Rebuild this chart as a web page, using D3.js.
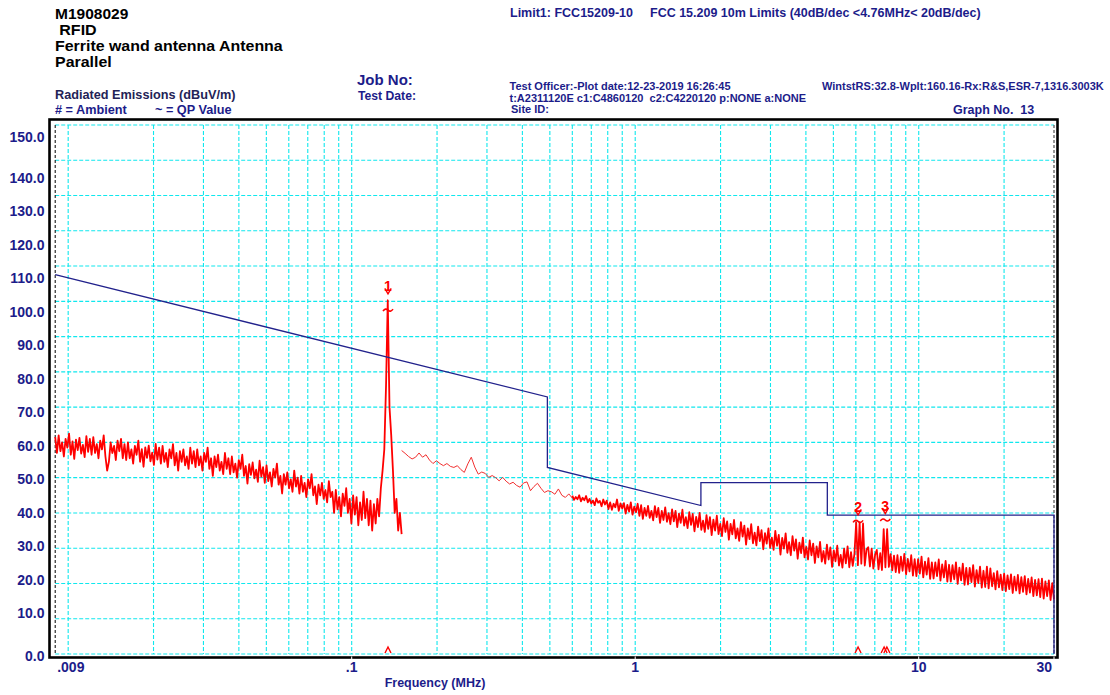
<!DOCTYPE html>
<html>
<head>
<meta charset="utf-8">
<script src="https://cdn.jsdelivr.net/npm/d3@7"></script>
<style>
  html, body { margin: 0; padding: 0; background: #fff; }
  svg { display: block; font-family: "Liberation Sans", Arial, sans-serif; }
  text { white-space: pre; }
</style>
</head>
<body>
<svg id="chart" width="1110" height="695"></svg>
<script>
// ---- axis ticks ----
const levelTicks = [0, 10, 20, 30, 40, 50, 60, 70, 80, 90, 100, 110, 120, 130, 140, 150];
const freqGrid = [0.01, 0.02, 0.03, 0.04, 0.05, 0.06, 0.07, 0.08, 0.09,
                  0.1, 0.2, 0.3, 0.4, 0.5, 0.6, 0.7, 0.8, 0.9,
                  1, 2, 3, 4, 5, 6, 7, 8, 9, 10, 20];
const freqLabelValues = [0.009, 0.1, 1, 10, 30];
const freqLabelTexts = [".009", ".1", "1", "10", "30"];

// ---- limit line: FCC 15.209 at 10 m ----
const limitFreq = [0.009, 0.49, 0.49, 1.705, 1.705, 4.76, 4.76, 30, 30];
const limitLevel = [107.6, 72.9, 52.9, 42.1, 48.6, 48.6, 39.4, 39.4, 0];

// ---- sweep 1: 9 kHz - 150 kHz (dBuV/m), log-spaced steps ----
const sweep1Range = [0.009, 0.150];
const sweep1Level = [
  61.5, 57, 62, 57.5, 60, 56, 61, 58.5, 62.5, 56.5,
  60.3, 55.3, 60.8, 57.8, 61.3, 56.8, 59.3, 55.8, 61.8, 57.3,
  61, 56.5, 61.5, 57, 59.5, 55.5, 60.5, 58, 62, 56,
  52, 54.5, 60, 57, 59, 55, 60.5, 57.5, 61, 55.5,
  59.5, 55, 60, 55.5, 58, 54, 59, 56.5, 60.5, 54.5,
  58.1, 53.1, 58.6, 55.6, 59.1, 54.6, 57.1, 53.6, 59.6, 55.1,
  58.5, 54, 59, 54.5, 57, 53, 58, 55.5, 59.5, 53.5,
  57, 52, 57.5, 54.5, 58, 53.5, 56, 52.5, 58.5, 54,
  57.5, 53, 58, 53.5, 56, 52, 57, 54.5, 58.5, 52.5,
  55.5, 50.5, 56, 53, 56.5, 52, 54.5, 51, 57, 52.5,
  55.5, 51, 56, 51.5, 54, 50, 55, 52.5, 56.5, 50.5,
  53.3, 48.3, 53.8, 50.8, 54.3, 49.8, 52.3, 48.8, 54.8, 50.3,
  53, 48.5, 53.5, 49, 51.5, 47.5, 52.5, 50, 54, 48,
  50.5, 45.5, 51, 48, 51.5, 47, 49.5, 46, 52, 47.5,
  50, 45.5, 50.5, 46, 48.5, 44.5, 49.5, 47, 51, 45,
  47.5, 42.5, 48, 45, 48.5, 44, 46.5, 43, 49, 44.5,
  46, 40, 46.5, 41, 44.5, 39, 45.5, 42, 47, 40,
  44, 37, 45, 39.5, 44.5, 36.5, 43, 38, 46, 38.5,
  44, 36.5, 43.5, 35, 42.5, 37, 44, 39, 47, 52,
  58, 76, 100.3, 70, 62, 52, 40, 44, 35, 40, 34
];

// ---- sweep 2a: 150 kHz - 600 kHz ----
const sweep2aRange = [0.150, 0.600];
const sweep2aLevel = [
  57.7, 56.9, 56.0, 55.3, 55.8, 57.0, 55.8, 56.5, 55.0, 54.0,
  54.8, 54.0, 53.4, 54.0, 53.2, 52.9, 53.4, 52.3, 51.5, 53.9,
  55.8, 53.0, 51.0, 51.6, 51.2, 50.1, 50.6, 50.0, 49.1, 50.1,
  49.0, 48.2, 48.7, 47.8, 47.3, 48.5, 48.8, 46.3, 47.5, 48.4,
  47.0, 45.8, 46.3, 46.0, 45.3, 46.8, 45.0, 44.4, 45.4, 44.2
];

// ---- sweep 2b: 600 kHz - 30 MHz ----
const sweep2bRange = [0.600, 30];
const sweep2bLevel = [
  44.9, 43.7, 44.5, 43.9, 45.0, 43.3, 44.3, 43.6, 44.8, 43.0,
  44.0, 42.7, 43.5, 42.2, 44.1, 42.9, 43.4, 41.9, 43.8, 42.4,
  43.5, 41.1, 43.0, 40.9, 42.6, 41.6, 43.8, 40.6, 42.7, 41.3,
  42.8, 39.8, 42.3, 40.4, 43.0, 39.5, 41.8, 40.2, 42.6, 39.2,
  42.2, 38.3, 41.4, 39.2, 42.0, 38.6, 40.6, 37.9, 41.9, 38.8,
  41.4, 37.2, 40.6, 38.0, 41.6, 37.5, 39.9, 36.8, 41.0, 37.6,
  40.6, 36.0, 39.8, 37.2, 40.9, 36.4, 38.8, 35.7, 40.2, 36.6,
  39.7, 34.8, 38.9, 36.0, 40.0, 35.2, 37.8, 34.6, 39.4, 35.5,
  38.8, 33.7, 38.1, 35.0, 39.2, 34.0, 36.9, 33.4, 38.5, 34.6,
  37.6, 32.4, 36.9, 33.9, 38.0, 32.8, 35.6, 32.1, 37.4, 33.3,
  36.4, 31.0, 35.6, 32.6, 36.8, 31.4, 34.4, 30.8, 36.1, 32.0,
  35.1, 29.7, 34.3, 31.3, 35.6, 30.1, 33.0, 29.5, 34.9, 30.7,
  33.8, 28.2, 32.9, 29.9, 34.2, 28.7, 31.7, 28.0, 33.4, 29.3,
  32.5, 27.0, 31.6, 28.6, 33.0, 27.4, 30.4, 26.8, 32.2, 28.0,
  31.3, 25.8, 30.5, 27.4, 31.8, 26.2, 29.2, 25.6, 31.0, 26.8,
  30.2, 24.7, 29.4, 26.3, 30.7, 25.1, 28.1, 24.5, 29.9, 25.7,
  30.5, 24.6, 28.9, 25.0, 28.4, 37.3, 25.2, 37.3, 25.6, 37.0,
  25.1, 29.6, 30.3, 24.8, 29.9, 24.2, 28.1, 29.5, 24.0, 28.6,
  23.8, 35.4, 24.6, 35.4, 24.7, 28.3, 23.7, 27.9, 23.2, 28.0,
  23.0, 27.6, 23.6, 28.4, 22.6, 27.0, 23.4, 28.0, 22.2, 26.9,
  22.1, 26.9, 22.8, 27.6, 21.7, 26.2, 22.5, 27.2, 21.3, 26.0,
  21.4, 26.0, 22.1, 26.8, 20.8, 25.4, 21.7, 26.4, 20.5, 25.3,
  20.5, 25.2, 21.2, 26.0, 19.9, 24.5, 20.9, 25.6, 19.6, 24.4,
  19.7, 24.4, 20.4, 25.2, 19.1, 23.8, 20.1, 24.8, 18.8, 23.6,
  19.0, 24.8, 18.6, 24.3, 19.2, 22.9, 18.3, 23.5, 18.9, 22.5,
  18.1, 22.8, 17.8, 22.3, 18.4, 22.6, 17.3, 21.9, 18.0, 22.4,
  17.2, 21.8, 17.6, 22.1, 16.9, 21.3, 17.4, 21.7, 16.4, 21.0,
  16.6, 21.2, 16.1, 21.4, 15.7, 20.6, 16.4, 20.9, 15.3, 20.1, 15.4
];

// ---- marked emissions ----
const markerIds = ["1", "2", "3"];
const markerFreq = [0.1343, 6.11, 7.62];
const markerPeak = [100.3, 37.3, 35.4];
const markerQP = [97.5, 37.6, 38.0];
const caretFreq = [0.1343, 6.11, 7.55, 7.72];

// ---- page text ----
const titleLines = ["M1908029", "RFID", "Ferrite wand antenna Antenna", "Parallel"];
const titleX = [55, 59.3, 55, 55];
const titleY = [18.5, 34.5, 51, 67];
const titleWidth = [73.3, 37.4, 227.7, 56.7];

// ================= drawing =================
const svg = d3.select("#chart");
const NAVY = "#1c1c8a";
const RED = "#ff0000";

const x = d3.scaleLog().domain([0.009, 30]).range([55.2, 1054]);
const y = d3.scaleLinear().domain([0, 150]).range([654, 125]);
// the level labels sit on their own, slightly compressed, scale
const yLabel = d3.scaleLinear().domain([0, 150]).range([y(0) - 7.2, y(150) + 19.3]);
const labelPos = v => v === 0 ? y(0) + 2 : v === 150 ? y(150) + 11.7 : yLabel(v);

// header
const head = svg.append("g");
titleLines.forEach((t, i) => {
  head.append("text").attr("x", titleX[i]).attr("y", titleY[i])
    .attr("font-size", 14).attr("font-weight", "bold").attr("fill", "#000")
    .attr("textLength", titleWidth[i]).attr("lengthAdjust", "spacingAndGlyphs").text(t);
});
head.append("text").attr("x", 55).attr("y", 99).attr("font-size", 12.7)
  .attr("font-weight", "bold").attr("fill", "#232356").text("Radiated Emissions (dBuV/m)");
head.append("text").attr("x", 55).attr("y", 113.5).attr("font-size", 12.7)
  .attr("font-weight", "bold").attr("fill", NAVY).text("# = Ambient");
head.append("text").attr("x", 155).attr("y", 113.5).attr("font-size", 12.7)
  .attr("font-weight", "bold").attr("fill", NAVY).text("~ = QP Value");
head.append("text").attr("x", 357).attr("y", 85).attr("font-size", 15)
  .attr("font-weight", "bold").attr("fill", NAVY).text("Job No:");
head.append("text").attr("x", 358).attr("y", 99.5).attr("font-size", 12.2)
  .attr("font-weight", "bold").attr("fill", NAVY).text("Test Date:");
head.append("text").attr("x", 510).attr("y", 16.7).attr("font-size", 12.5)
  .attr("font-weight", "bold").attr("fill", NAVY).text("Limit1: FCC15209-10");
head.append("text").attr("x", 650).attr("y", 16.7).attr("font-size", 12.5)
  .attr("font-weight", "bold").attr("fill", NAVY).text("FCC 15.209 10m Limits (40dB/dec <4.76MHz< 20dB/dec)");
head.append("text").attr("x", 509.5).attr("y", 90).attr("font-size", 11)
  .attr("font-weight", "bold").attr("fill", NAVY).text("Test Officer:-Plot date:12-23-2019 16:26:45");
head.append("text").attr("x", 509.5).attr("y", 101.5).attr("font-size", 11)
  .attr("font-weight", "bold").attr("fill", NAVY).text("t:A2311120E c1:C4860120  c2:C4220120 p:NONE a:NONE");
head.append("text").attr("x", 511).attr("y", 112.5).attr("font-size", 11)
  .attr("font-weight", "bold").attr("fill", NAVY).text("Site ID:");
head.append("text").attr("x", 822).attr("y", 90).attr("font-size", 11)
  .attr("font-weight", "bold").attr("fill", NAVY).text("WintstRS:32.8-Wplt:160.16-Rx:R&S,ESR-7,1316.3003K");
head.append("text").attr("x", 953).attr("y", 114).attr("font-size", 12.5)
  .attr("font-weight", "bold").attr("fill", NAVY).text("Graph No.  13");

// grid
const grid = svg.append("g").attr("stroke", "#10e8ee").attr("stroke-width", 1.1)
  .attr("stroke-dasharray", "4,2").attr("fill", "none");
grid.selectAll("line.h").data(levelTicks).join("line").attr("class", "h")
  .attr("x1", x(0.009)).attr("x2", x(30)).attr("y1", d => y(d)).attr("y2", d => y(d));
grid.selectAll("line.v").data(freqGrid).join("line").attr("class", "v")
  .attr("x1", d => x(d)).attr("x2", d => x(d)).attr("y1", y(150)).attr("y2", y(0));
svg.append("line").attr("x1", x(0.009)).attr("x2", x(0.009)).attr("y1", y(150)).attr("y2", y(0))
  .attr("stroke", "#000").attr("stroke-width", 1).attr("stroke-dasharray", "3,2");
svg.append("line").attr("x1", x(30)).attr("x2", x(30)).attr("y1", y(150)).attr("y2", y(0))
  .attr("stroke", "#6a6a6a").attr("stroke-width", 1.4).attr("stroke-dasharray", "3,2");

// level labels
svg.append("g").selectAll("text").data(levelTicks).join("text")
  .attr("x", 44.5).attr("y", d => labelPos(d)).attr("dy", "0.36em")
  .attr("text-anchor", "end").attr("font-size", 14).attr("font-weight", "bold")
  .attr("fill", NAVY).text(d => d.toFixed(1));

// frequency labels
svg.append("g").selectAll("text").data(freqLabelValues).join("text")
  .attr("x", (d, i) => i === 0 ? x(d) + 2 : i === freqLabelValues.length - 1 ? x(d) - 2 : x(d))
  .attr("y", 671.5)
  .attr("text-anchor", (d, i) => i === 0 ? "start" : i === freqLabelValues.length - 1 ? "end" : "middle")
  .attr("font-size", 14).attr("font-weight", "bold").attr("fill", NAVY)
  .text((d, i) => freqLabelTexts[i]);
svg.append("text").attr("x", 435).attr("y", 686.5).attr("text-anchor", "middle")
  .attr("font-size", 12.5).attr("font-weight", "bold").attr("fill", NAVY).text("Frequency (MHz)");

// sweep traces
function sweepPoints(range, levels) {
  const l0 = Math.log10(range[0]), l1 = Math.log10(range[1]), n = levels.length;
  return levels.map((v, i) => [Math.pow(10, l0 + (l1 - l0) * i / (n - 1)), v]);
}
const line = d3.line().x(d => x(d[0])).y(d => y(d[1]));
const traces = svg.append("g").attr("fill", "none").attr("stroke", RED).attr("stroke-linejoin", "round");
traces.append("path").attr("d", line(sweepPoints(sweep1Range, sweep1Level))).attr("stroke-width", 1.8);
traces.append("path").attr("d", line(sweepPoints(sweep2aRange, sweep2aLevel))).attr("stroke-width", 1)
  .attr("stroke", "#f23030");
traces.append("path").attr("d", line(sweepPoints(sweep2bRange, sweep2bLevel))).attr("stroke-width", 1.8);

// limit line
svg.append("path")
  .attr("d", line(limitFreq.map((f, i) => [f, limitLevel[i]])))
  .attr("fill", "none").attr("stroke", "#22228c").attr("stroke-width", 1.3);

// emission markers
const mk = svg.append("g").attr("fill", RED);
markerIds.forEach((id, i) => {
  const mx = x(markerFreq[i]);
  const base = y(Math.max(markerPeak[i], markerQP[i])) - 9;
  mk.append("text").attr("x", mx).attr("y", base).attr("text-anchor", "middle")
    .attr("font-size", 14).attr("font-weight", "bold").text(id);
  mk.append("path").attr("d", `M${mx - 3.2},${base - 3}L${mx},${base + 2.5}L${mx + 3.2},${base - 3}`)
    .attr("fill", "none").attr("stroke", RED).attr("stroke-width", 1.4);
  const yq = y(markerQP[i]);
  mk.append("path").attr("d", `M${mx - 5},${yq + 1}Q${mx - 2.5},${yq - 2.5} ${mx},${yq}T${mx + 5},${yq - 1}`)
    .attr("fill", "none").attr("stroke", RED).attr("stroke-width", 1.6);
});
svg.append("g").selectAll("path").data(caretFreq).join("path")
  .attr("d", d => `M${x(d) - 3},${y(0) - 1}L${x(d)},${y(0) - 7}L${x(d) + 3},${y(0) - 1}`)
  .attr("fill", "none").attr("stroke", RED).attr("stroke-width", 1.4);

// frame
svg.append("rect").attr("x", 49.5).attr("y", 119.5).attr("width", 1008).attr("height", 538)
  .attr("fill", "none").attr("stroke", "#000").attr("stroke-width", 2.6);
svg.append("g").selectAll("line").data([0.1, 1, 10, 30]).join("line")
  .attr("x1", d => x(d)).attr("x2", d => x(d)).attr("y1", 656.5).attr("y2", 659)
  .attr("stroke", "#fff").attr("stroke-width", 1);
</script>
</body>
</html>
